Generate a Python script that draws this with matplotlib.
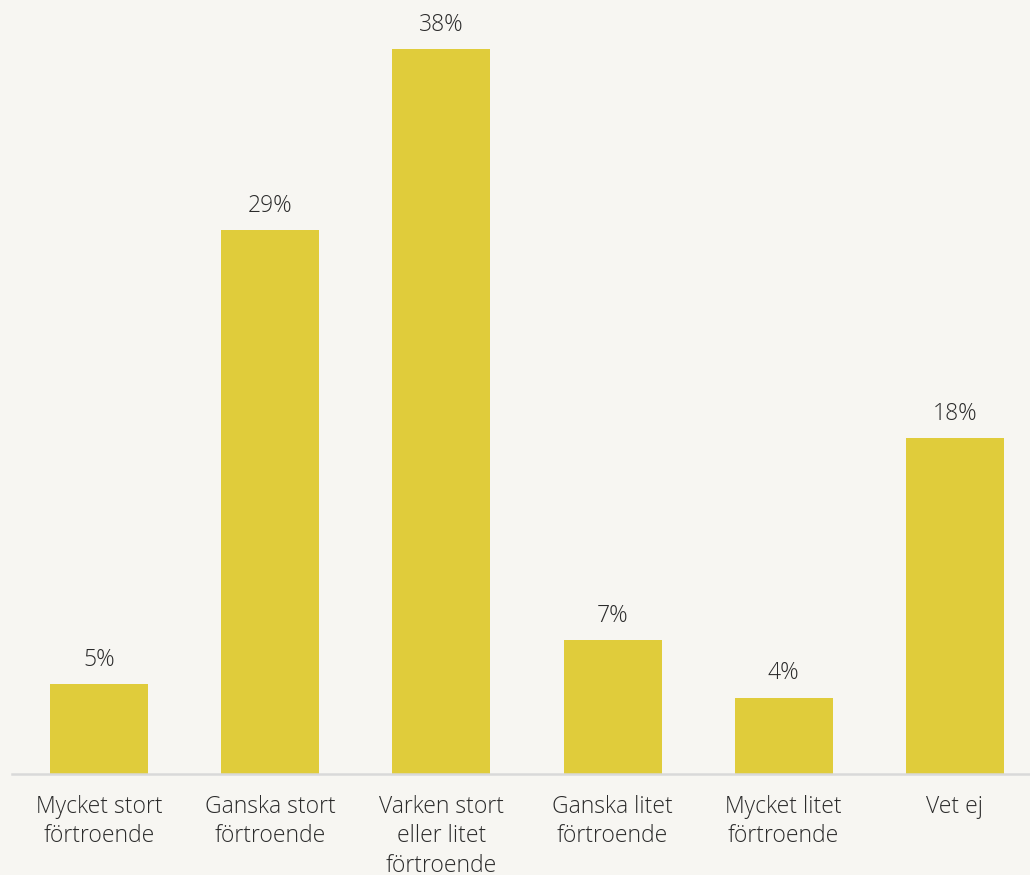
import matplotlib.pyplot as plt

# Survey answers
categories = ["Mycket stort\nförtroende", "Ganska stort\nförtroende", "Varken stort\neller litet\nförtroende",
              "Ganska litet\nförtroende", "Mycket litet\nförtroende", "Vet ej"]
values = [4.7, 28.5, 38.0, 7.0, 4.0, 17.6]
labels = ["5%", "29%", "38%", "7%", "4%", "18%"]

bg = "#f7f6f2"
plt.rcParams['font.family'] = ['Open Sans', 'DejaVu Sans']

fig = plt.figure(figsize=(10.3, 8.75), dpi=100, facecolor=bg)
ax = fig.add_axes([12/1030, 101/875, 1018/1030, 774/875])
ax.set_facecolor(bg)

x = range(len(values))
bars = ax.bar(x, values, width=0.573, color="#e0cc3b")

for b, lab in zip(bars, labels):
    ax.annotate(lab, (b.get_x() + b.get_width()/2, b.get_height()), xytext=(0, 9),
                textcoords="offset points", ha="center", va="bottom", fontsize=16.5,
                color="#2b2b2b", fontweight=300)

ax.set_xlim(-0.51, 5.44)
ax.set_ylim(0, 40.57)
ax.set_xticks(list(x))
ax.set_xticklabels(categories, fontsize=16.5, color="#2b2b2b", linespacing=1.3, fontweight=300)
ax.tick_params(axis="x", length=0, pad=15)
ax.set_yticks([])
for s in ["top", "right", "left"]:
    ax.spines[s].set_visible(False)
ax.spines["bottom"].set_color("#d9d9d9")
ax.spines["bottom"].set_linewidth(1.8)

fig.savefig("out.png", dpi=100, facecolor=bg)
